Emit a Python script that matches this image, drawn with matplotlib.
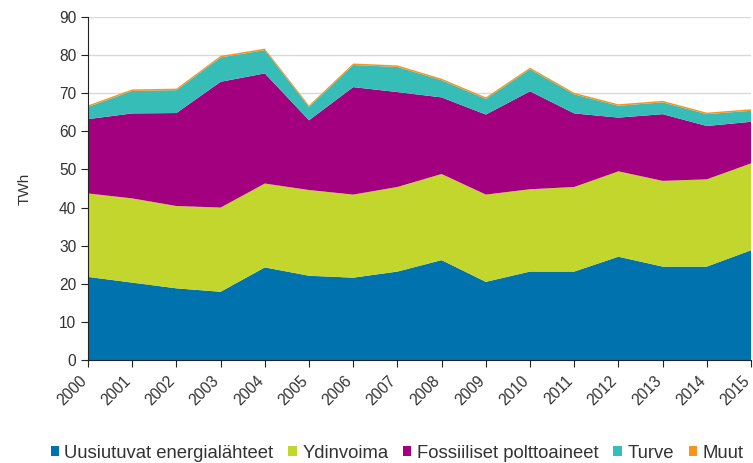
import matplotlib
matplotlib.use("Agg")
import matplotlib.pyplot as plt
from matplotlib.transforms import ScaledTranslation

plt.rcParams['font.family'] = ['Liberation Sans', 'DejaVu Sans']

years = list(range(2000, 2016))
uusiutuvat = [21.8, 20.3, 18.8, 17.9, 24.3, 22.1, 21.6, 23.2, 26.2, 20.5, 23.2, 23.2, 27.1, 24.5, 24.5, 28.8]
ydinvoima = [21.9, 22.1, 21.6, 22.1, 22.0, 22.5, 21.8, 22.2, 22.6, 22.9, 21.6, 22.2, 22.4, 22.5, 22.9, 22.8]
fossiiliset = [19.5, 22.3, 24.4, 33.0, 28.9, 18.3, 28.2, 24.9, 20.1, 21.0, 25.7, 19.3, 14.1, 17.5, 14.0, 10.9]
turve = [3.2, 5.9, 6.0, 6.4, 6.1, 3.5, 5.8, 6.6, 4.5, 4.1, 5.8, 5.0, 3.1, 3.1, 3.1, 2.9]
muut = [0.4] * 16

labels = ['Uusiutuvat energialähteet', 'Ydinvoima', 'Fossiiliset polttoaineet', 'Turve', 'Muut']
colors = ['#0072AE', '#C3D62E', '#A3007F', '#36BDB8', '#F7941D']

fig = plt.figure(figsize=(7.53, 4.63), dpi=100)
ax = fig.add_axes([0.1169, 0.2225, 0.8805, 0.7408])
ax.stackplot(years, uusiutuvat, ydinvoima, fossiiliset, turve, muut,
             colors=colors, labels=labels, linewidth=0)

ax.set_xlim(2000, 2015)
ax.set_ylim(0, 90)
ax.set_yticks(range(0, 91, 10))
ax.set_xticks(years)
ax.set_xticklabels([str(y) for y in years], rotation=45, ha='right', rotation_mode='anchor')
ax.tick_params(axis='both', labelsize=11.2, labelcolor='#333333', color='#222222', length=5)
ax.tick_params(axis='x', pad=3)
# nudge the rotated year labels left so 2015 stays inside the figure
shift = ScaledTranslation(-9 / 100, -2 / 100, fig.dpi_scale_trans)
for lab in ax.get_xticklabels():
    lab.set_transform(lab.get_transform() + shift)
ax.yaxis.grid(True, color='#d9d9d9', linewidth=1)
ax.set_axisbelow(True)
for s in ['top', 'right']:
    ax.spines[s].set_visible(False)
ax.spines['left'].set_color('#222222')
ax.spines['bottom'].set_color('#222222')
ax.set_ylabel('TWh', fontsize=11, color='#333333', labelpad=20)

ax.legend(loc='lower center', bbox_to_anchor=(0.466, -0.345), ncol=5, frameon=False,
          fontsize=13.3, handlelength=0.45, handleheight=0.45, handletextpad=0.3,
          columnspacing=0.8, labelcolor='#333333')

fig.savefig('out.png', dpi=100)
